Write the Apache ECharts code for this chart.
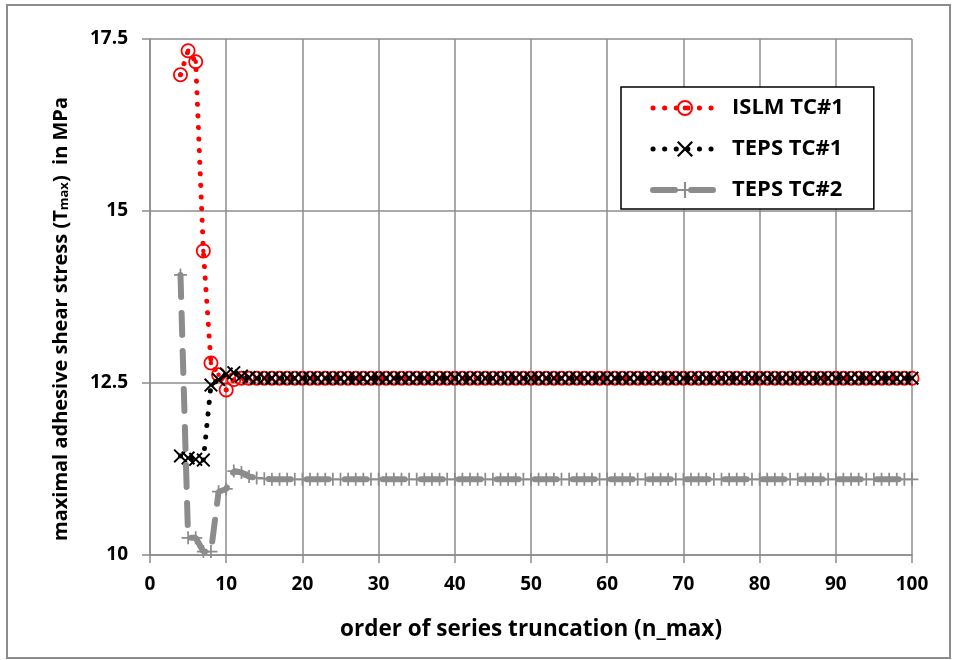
<!DOCTYPE html>
<html><head><meta charset="utf-8">
<script src="https://cdn.jsdelivr.net/npm/echarts@6/dist/echarts.min.js"></script>
<style>html,body{margin:0;padding:0;background:#fff}#c{width:958px;height:660px}</style>
</head><body><div id="c"></div>
<script>
const nMax = [
  4,5,6,7,8,9,10,11,12,13,
  14,15,16,17,18,19,20,21,22,23,
  24,25,26,27,28,29,30,31,32,33,
  34,35,36,37,38,39,40,41,42,43,
  44,45,46,47,48,49,50,51,52,53,
  54,55,56,57,58,59,60,61,62,63,
  64,65,66,67,68,69,70,71,72,73,
  74,75,76,77,78,79,80,81,82,83,
  84,85,86,87,88,89,90,91,92,93,
  94,95,96,97,98,99,100
];
const islmTC1 = [
  16.98,17.33,17.17,14.42,12.79,12.62,12.40,12.55,12.57,12.57,
  12.57,12.57,12.57,12.57,12.57,12.57,12.57,12.57,12.57,12.57,
  12.57,12.57,12.57,12.57,12.57,12.57,12.57,12.57,12.57,12.57,
  12.57,12.57,12.57,12.57,12.57,12.57,12.57,12.57,12.57,12.57,
  12.57,12.57,12.57,12.57,12.57,12.57,12.57,12.57,12.57,12.57,
  12.57,12.57,12.57,12.57,12.57,12.57,12.57,12.57,12.57,12.57,
  12.57,12.57,12.57,12.57,12.57,12.57,12.57,12.57,12.57,12.57,
  12.57,12.57,12.57,12.57,12.57,12.57,12.57,12.57,12.57,12.57,
  12.57,12.57,12.57,12.57,12.57,12.57,12.57,12.57,12.57,12.57,
  12.57,12.57,12.57,12.57,12.57,12.57,12.57
];
const tepsTC1 = [
  11.44,11.41,11.39,11.38,12.47,12.55,12.63,12.65,12.60,12.58,
  12.57,12.57,12.57,12.57,12.57,12.57,12.57,12.57,12.57,12.57,
  12.57,12.57,12.57,12.57,12.57,12.57,12.57,12.57,12.57,12.57,
  12.57,12.57,12.57,12.57,12.57,12.57,12.57,12.57,12.57,12.57,
  12.57,12.57,12.57,12.57,12.57,12.57,12.57,12.57,12.57,12.57,
  12.57,12.57,12.57,12.57,12.57,12.57,12.57,12.57,12.57,12.57,
  12.57,12.57,12.57,12.57,12.57,12.57,12.57,12.57,12.57,12.57,
  12.57,12.57,12.57,12.57,12.57,12.57,12.57,12.57,12.57,12.57,
  12.57,12.57,12.57,12.57,12.57,12.57,12.57,12.57,12.57,12.57,
  12.57,12.57,12.57,12.57,12.57,12.57,12.57
];
const tepsTC2 = [
  14.07,10.25,10.25,10.05,10.05,10.92,10.96,11.22,11.20,11.14,
  11.12,11.11,11.10,11.10,11.10,11.10,11.10,11.10,11.10,11.10,
  11.10,11.10,11.10,11.10,11.10,11.10,11.10,11.10,11.10,11.10,
  11.10,11.10,11.10,11.10,11.10,11.10,11.10,11.10,11.10,11.10,
  11.10,11.10,11.10,11.10,11.10,11.10,11.10,11.10,11.10,11.10,
  11.10,11.10,11.10,11.10,11.10,11.10,11.10,11.10,11.10,11.10,
  11.10,11.10,11.10,11.10,11.10,11.10,11.10,11.10,11.10,11.10,
  11.10,11.10,11.10,11.10,11.10,11.10,11.10,11.10,11.10,11.10,
  11.10,11.10,11.10,11.10,11.10,11.10,11.10,11.10,11.10,11.10,
  11.10,11.10,11.10,11.10,11.10,11.10,11.10
];
const seriesNames = ['ISLM TC#1', 'TEPS TC#1', 'TEPS TC#2'];
const xTicks = [0, 100, 10];
const yTicks = [10, 17.5, 2.5];
const xTitle = 'order of series truncation (n_max)';
const yTitleParts = ['maximal adhesive shear stress (T', 'max', ')  in MPa'];

const pairs = v => nMax.map((n, i) => [n, v[i]]);
const FONT = '"Open Sans", "Liberation Sans", sans-serif';
const GRID = '#8c8c8c';

const symCircleDot = 'path://M0,-10A10,10 0 1,1 0,10A10,10 0 1,1 0,-10Z M0,-7.6A7.6,7.6 0 1,0 0,7.6A7.6,7.6 0 1,0 0,-7.6Z M0,-3A3,3 0 1,1 0,3A3,3 0 1,1 0,-3Z';
const symX = 'path://M-6,-4.8L-4.8,-6L0,-1.2L4.8,-6L6,-4.8L1.2,0L6,4.8L4.8,6L0,1.2L-4.8,6L-6,4.8L-1.2,0Z';
const symPlus = 'path://M-0.8,-6L0.8,-6L0.8,-0.8L6,-0.8L6,0.8L0.8,0.8L0.8,6L-0.8,6L-0.8,0.8L-6,0.8L-6,-0.8L-0.8,-0.8Z';

const chart = echarts.init(document.getElementById('c'), null, {renderer: 'canvas'});
chart.setOption({
  animation: false,
  backgroundColor: '#fff',
  textStyle: {fontFamily: FONT},
  graphic: [
    {
      type: 'rect', z: -10, silent: true,
      shape: {x: 7, y: 5, width: 943, height: 653},
      style: {fill: 'none', stroke: '#8c8c8c', lineWidth: 2}
    },
    {
      type: 'text', silent: true, z: 10,
      x: 58, y: 319, rotation: Math.PI / 2,
      style: {
        text: '{m|' + yTitleParts[0] + '}{s|' + yTitleParts[1] + '}{m|' + yTitleParts[2] + '}',
        align: 'center', verticalAlign: 'middle',
        rich: {
          m: {fontFamily: FONT, fontSize: 20, fontWeight: 'bold', fill: '#000', lineHeight: 26, verticalAlign: 'bottom'},
          s: {fontFamily: FONT, fontSize: 13, fontWeight: 'bold', fill: '#000', lineHeight: 26, verticalAlign: 'bottom', padding: [10, 0, 0, 0]}
        }
      }
    }
  ],
  grid: {left: 150, right: 46, top: 39, bottom: 105},
  xAxis: {
    type: 'value', min: xTicks[0], max: xTicks[1], interval: xTicks[2],
    name: xTitle,
    nameLocation: 'middle', nameGap: 63,
    nameTextStyle: {fontFamily: FONT, fontSize: 22.5, fontWeight: 'bold', color: '#000'},
    axisLine: {show: true, lineStyle: {color: GRID, width: 1.5}},
    axisTick: {show: true, length: 8, lineStyle: {color: GRID, width: 1.5}},
    axisLabel: {margin: 20, fontFamily: FONT, fontSize: 19, fontWeight: 'bold', color: '#000'},
    splitLine: {show: true, lineStyle: {color: GRID, width: 1.5}}
  },
  yAxis: {
    type: 'value', min: yTicks[0], max: yTicks[1], interval: yTicks[2],
    axisLine: {show: true, lineStyle: {color: GRID, width: 1.5}},
    axisTick: {show: true, length: 8, lineStyle: {color: GRID, width: 1.5}},
    axisLabel: {margin: 22, fontFamily: FONT, fontSize: 19, fontWeight: 'bold', color: '#000'},
    splitLine: {show: true, lineStyle: {color: GRID, width: 1.5}}
  },
  legend: {
    orient: 'vertical', left: 621, top: 87,
    padding: [10, 30, 8, 29],
    itemWidth: 64, itemHeight: 20, itemGap: 19,
    backgroundColor: '#fff', borderColor: '#000', borderWidth: 1.5,
    lineStyle: {width: 'inherit', type: 'inherit', cap: 'inherit'},
    textStyle: {fontFamily: FONT, fontSize: 22, fontWeight: 'bold', color: '#000', padding: [0, 0, 0, 10]},
    data: seriesNames
  },
  series: [
    {
      name: seriesNames[0], type: 'line', data: pairs(islmTC1),
      symbol: symCircleDot, symbolSize: 15,
      itemStyle: {color: '#ff0000'},
      lineStyle: {color: '#ff0000', width: 5, type: [0.1, 11.5], cap: 'round'},
      z: 2
    },
    {
      name: seriesNames[1], type: 'line', data: pairs(tepsTC1),
      symbol: symX, symbolSize: 14,
      itemStyle: {color: '#000'},
      lineStyle: {color: '#000', width: 5, type: [0.1, 11.5], cap: 'round'},
      z: 3
    },
    {
      name: seriesNames[2], type: 'line', data: pairs(tepsTC2),
      symbol: symPlus, symbolSize: 13,
      itemStyle: {color: '#8c8c8c'},
      lineStyle: {color: '#8c8c8c', width: 6, type: [22, 16], cap: 'round'},
      z: 4
    }
  ]
});
</script></body></html>
